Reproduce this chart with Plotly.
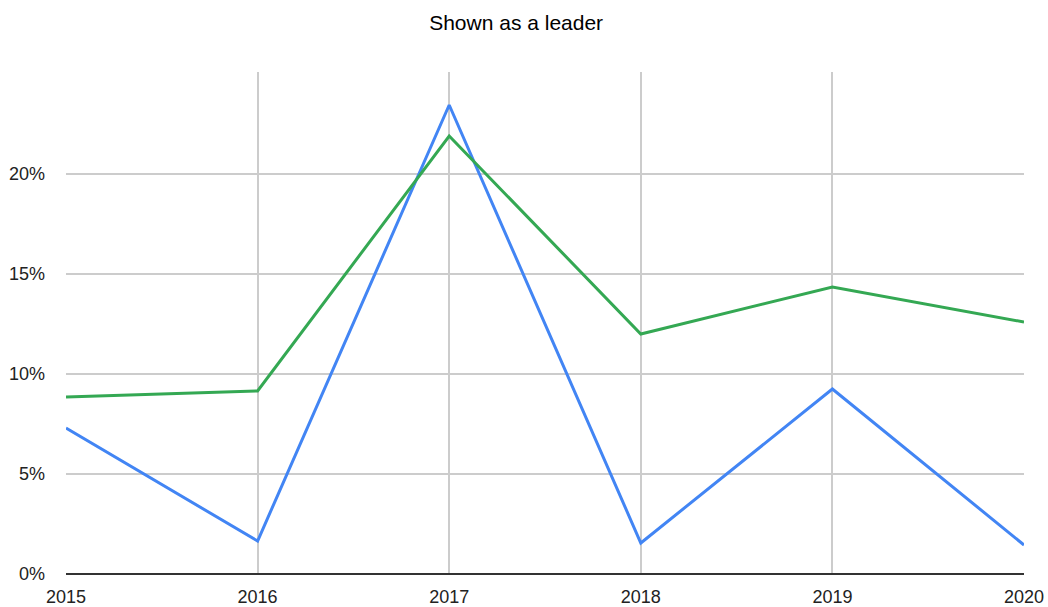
import plotly.graph_objects as go

years = [2015, 2016, 2017, 2018, 2019, 2020]
inner_years = [2016, 2017, 2018, 2019]
series_blue = [0.073, 0.0165, 0.2345, 0.0155, 0.0925, 0.0145]
series_green = [0.0885, 0.0915, 0.219, 0.120, 0.1435, 0.126]
y_ticks = [0, 0.05, 0.10, 0.15, 0.20]
y_tick_text = ["0%", "5%", "10%", "15%", "20%"]

font = "Liberation Sans, Arial, sans-serif"

fig = go.Figure()
fig.add_trace(go.Scatter(x=years, y=series_blue, mode="lines",
                         line=dict(color="#4285F4", width=3), showlegend=False))
fig.add_trace(go.Scatter(x=years, y=series_green, mode="lines",
                         line=dict(color="#34A853", width=3), showlegend=False))

fig.update_layout(
    width=1048, height=607,
    margin=dict(l=66, r=24, t=72, b=33, autoexpand=False),
    paper_bgcolor="white", plot_bgcolor="white",
    title=dict(text="Shown as a leader", x=0.4925, xanchor="center", y=0.963, yanchor="middle",
               font=dict(family=font, size=21, color="#000000")),
    font=dict(family=font, size=18, color="#222222"),
)
fig.update_xaxes(
    range=[2015, 2020], tickmode="array", tickvals=years, ticktext=[str(y) for y in years],
    showgrid=False, zeroline=False, showline=False, automargin=False,
    minor=dict(tickvals=inner_years, showgrid=True, gridcolor="#CCCCCC", gridwidth=1.5, ticks=""),
    ticks="", ticklabelstandoff=10, tickfont=dict(size=18, color="#222222"),
)
fig.update_yaxes(
    range=[0, 0.251], tickmode="array", tickvals=y_ticks, ticktext=y_tick_text,
    showgrid=True, gridcolor="#CCCCCC", gridwidth=1.5, zeroline=True,
    zerolinecolor="#333333", zerolinewidth=2, showline=False, automargin=False,
    ticks="", ticklabelstandoff=20, tickfont=dict(size=18, color="#222222"),
)

fig.write_html("out.html")
